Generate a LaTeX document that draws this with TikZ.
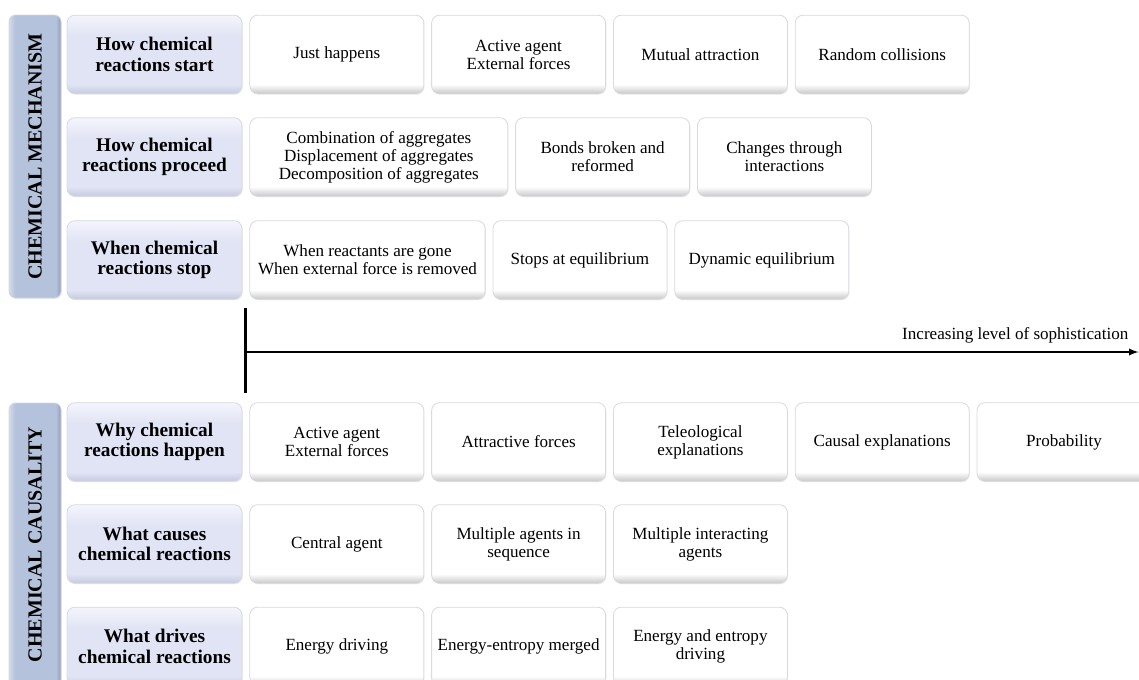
\documentclass[tikz,border=0pt]{standalone}
\usepackage{fontspec}
\setmainfont{Liberation Serif}
\usetikzlibrary{calc,shapes,arrows,shadows,chains,positioning}

\definecolor{hdrlight}{HTML}{F4F5FC}
\definecolor{hdrbody}{HTML}{E1E4F4}
\definecolor{hdrdark}{HTML}{C6CADF}
\definecolor{sidelight}{HTML}{D3DBEB}
\definecolor{sidebody}{HTML}{B5C2DB}
\definecolor{sidedark}{HTML}{8F9DBA}
\definecolor{edgegray}{HTML}{D8D9E1}

\pgfdeclareverticalshading{hdrshade}{100bp}{color(0bp)=(hdrdark); color(25bp)=(hdrdark); color(31bp)=(hdrbody); color(62bp)=(hdrbody); color(75bp)=(hdrlight); color(100bp)=(hdrlight)}
\pgfdeclareverticalshading{cellshade}{100bp}{color(0bp)=(black!22); color(25bp)=(black!22); color(31bp)=(white); color(100bp)=(white)}
\pgfdeclarehorizontalshading{sideshade}{100bp}{color(0bp)=(sidelight); color(25bp)=(sidelight); color(31bp)=(sidebody); color(70bp)=(sidebody); color(75bp)=(sidedark); color(100bp)=(sidedark)}

\tikzset{
  cell/.style={rectangle, rounded corners=6pt, draw=edgegray, line width=0.6pt,
    shading=cellshade, minimum height=59pt, align=center, inner sep=2pt,
    font=\fontsize{12.8}{13.4}\selectfont,
    drop shadow={opacity=0.12, shadow xshift=0.6pt, shadow yshift=-0.8pt}},
  head/.style={cell, shading=hdrshade, minimum width=131.25pt,
    font=\bfseries\fontsize{14.5}{15.2}\selectfont},
  side/.style={cell, shading=sideshade, draw=sidedark!40,
    rounded corners=5pt, minimum width=39pt, minimum height=212.25pt,
    font=\bfseries\fontsize{15}{15}\selectfont}
}

\begin{document}
\begin{tikzpicture}[x=0.75pt,y=-0.75pt]
\clip (0,0) rectangle (1139,679);

\node [side] (mech) at (35,156.5) {\rotatebox{90}{CHEMICAL MECHANISM}};
\node [side] (caus) at (35,544.5) {\rotatebox{90}{CHEMICAL CAUSALITY}};

\begin{scope}[start chain=going right,node distance=5.25pt]
\def\mrowa{1/130.5/{Just happens},2/130.5/{Active agent\\External forces},3/130.5/{Mutual attraction},4/130.5/{Random collisions}}
\node [on chain,head] (ma) at (154.5,54.5) {How chemical\\reactions start};
\foreach \i / \w / \element in \mrowa
  \node [on chain,cell,minimum width=\w pt] (ma\i) {\element};
\end{scope}

\begin{scope}[start chain=going right,node distance=5.25pt]
\def\mrowb{1/193.5/{Combination of aggregates\\Displacement of aggregates\\Decomposition of aggregates},2/130.5/{Bonds broken and\\reformed},3/130.5/{Changes through\\interactions}}
\node [on chain,head] (mb) at (154.5,157) {How chemical\\reactions proceed};
\foreach \i / \w / \element in \mrowb
  \node [on chain,cell,minimum width=\w pt] (mb\i) {\element};
\end{scope}

\begin{scope}[start chain=going right,node distance=5.25pt]
\def\mrowc{1/176.5/{When reactants are gone\\When external force is removed},2/130.5/{Stops at equilibrium},3/130.5/{Dynamic equilibrium}}
\node [on chain,head] (mc) at (154.5,260) {When chemical\\reactions stop};
\foreach \i / \w / \element in \mrowc
  \node [on chain,cell,minimum width=\w pt] (mc\i) {\element};
\end{scope}

\begin{scope}[start chain=going right,node distance=5.25pt]
\def\crowa{1/{Active agent\\External forces},2/{Attractive forces},3/{Teleological\\explanations},4/{Causal explanations},5/{Probability}}
\node [on chain,head] (ca) at (154.5,442) {Why chemical\\reactions happen};
\foreach \i / \element in \crowa
  \node [on chain,cell,minimum width=130.5pt] (ca\i) {\element};
\end{scope}

\begin{scope}[start chain=going right,node distance=5.25pt]
\def\crowb{1/{Central agent},2/{Multiple agents in\\sequence},3/{Multiple interacting\\agents}}
\node [on chain,head] (cb) at (154.5,544) {What causes\\chemical reactions};
\foreach \i / \element in \crowb
  \node [on chain,cell,minimum width=130.5pt] (cb\i) {\element};
\end{scope}

\begin{scope}[start chain=going right,node distance=5.25pt]
\def\crowc{1/{Energy driving},2/{Energy-entropy merged},3/{Energy and entropy\\driving}}
\node [on chain,head] (cc) at (154.5,646.5) {What drives\\chemical reactions};
\foreach \i / \element in \crowc
  \node [on chain,cell,minimum width=130.5pt] (cc\i) {\element};
\end{scope}

\coordinate (axtop) at (245.5,308);
\coordinate (axbot) at (245.5,393);
\coordinate (axorig) at (245.5,352);
\coordinate (axend) at (1138.5,352);
\draw [line width=2.2pt] (axtop) -- (axbot);
\draw [line width=1.4pt,-latex] (axorig) -- (axend);
\node [anchor=base east,font=\fontsize{12.8}{13.4}\selectfont] (soph) at (1133,339) {Increasing level of sophistication};

\end{tikzpicture}
\end{document}
